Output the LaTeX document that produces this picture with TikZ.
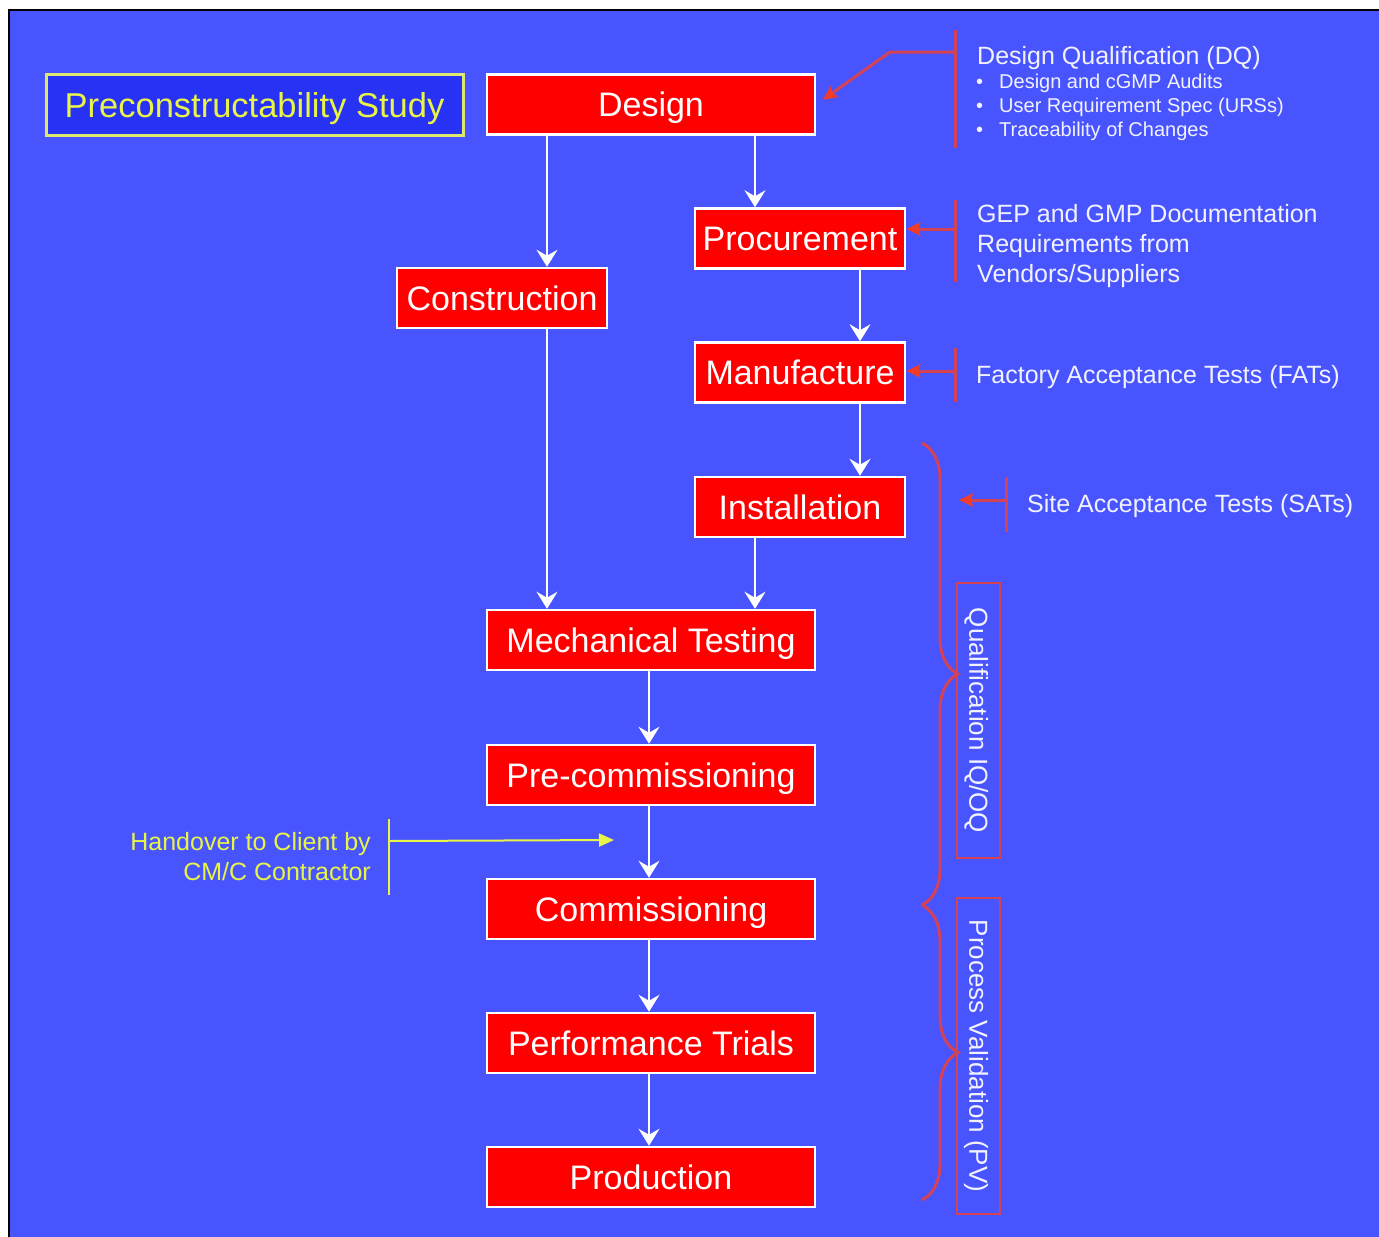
\documentclass[tikz,border=0pt]{standalone}
\usepackage{fontspec}
\setmainfont{Liberation Sans}
\usetikzlibrary{arrows.meta,decorations.pathreplacing,calc}

\definecolor{bgblue}{RGB}{72,85,255}
\definecolor{deepblue}{RGB}{40,50,245}
\definecolor{boxred}{RGB}{255,0,0}
\definecolor{notered}{RGB}{212,66,86}
\definecolor{tipred}{RGB}{240,60,40}
\definecolor{lemon}{RGB}{232,244,70}
\definecolor{paleyellow}{RGB}{220,232,110}
\definecolor{notewhite}{RGB}{242,242,255}

\begin{document}
\begin{tikzpicture}[x=1pt,y=-1pt,
  stage/.style={draw=white, line width=2.5pt, fill=boxred, text=white,
    font=\fontsize{34}{40}\selectfont, text height=24.5pt, text depth=0pt,
    inner sep=0pt, minimum height=60pt},
  widestage/.style={stage, minimum width=328pt},
  narrowstage/.style={stage, minimum width=210pt},
  flow/.style={draw=white, line width=2pt,
    -{Stealth[length=17pt,width=21pt,inset=6pt]}},
  notebar/.style={draw=notered, line width=3pt},
  pointer/.style={draw=notered, line width=3pt,
    -{Stealth[length=14pt,width=13pt,inset=2pt,color=tipred]}},
  notetext/.style={text=notewhite, inner sep=0pt, font=\fontsize{25}{30}\selectfont},
  smallnote/.style={text=notewhite, inner sep=0pt, font=\fontsize{20}{24}\selectfont},
  phasebox/.style={draw=notered, line width=2.5pt, rotate=-90, text=notewhite,
    font=\fontsize{26}{30}\selectfont, text height=18.5pt, text depth=0pt,
    inner sep=0pt, minimum height=43pt},
  phasebrace/.style={draw=notered, line width=3pt, decorate,
    decoration={brace, amplitude=36pt}},
  handtext/.style={text=lemon, inner sep=0pt, font=\fontsize{25}{30}\selectfont},
]
\useasboundingbox (0,0) rectangle (1379,1237);

% page background and frame
\fill[white] (0,0) rectangle (1379,1237);
\fill[bgblue] (9,10) rectangle (1379,1237);
\draw[black, line width=2pt] (9,1237) -- (9,10) -- (1379,10);

% columns used by the flow arrows
\coordinate (colA) at (547,0);
\coordinate (colB) at (755,0);
\coordinate (colC) at (860,0);
\coordinate (colD) at (649,0);

% study box
\node[draw=paleyellow, line width=3pt, fill=deepblue, text=lemon,
      font=\fontsize{34.5}{40}\selectfont, text height=25pt, text depth=0pt,
      inner sep=0pt, minimum width=417pt, minimum height=61pt]
  (study) at (254.5,104.5) {Preconstructability Study};

% stages
\node[widestage]   (design)       at (651,104.5) {Design};
\node[narrowstage] (procurement)  at (800,238.5) {Procurement};
\node[narrowstage] (construction) at (502,298)   {Construction};
\node[narrowstage] (manufacture)  at (800,372.5) {Manufacture};
\node[narrowstage] (installation) at (800,507)   {Installation};
\node[widestage]   (mechanical)   at (651,640)   {Mechanical Testing};
\node[widestage]   (precomm)      at (651,775)   {Pre-commissioning};
\node[widestage]   (comm)         at (651,909)   {Commissioning};
\node[widestage]   (trials)       at (651,1043)  {Performance Trials};
\node[widestage]   (production)   at (651,1177)  {Production};

% flow arrows
\draw[flow] (design.south -| colA) -- (construction.north -| colA);
\draw[flow] (design.south -| colB) -- (procurement.north -| colB);
\draw[flow] (procurement.south -| colC) -- (manufacture.north -| colC);
\draw[flow] (manufacture.south -| colC) -- (installation.north -| colC);
\draw[flow] (construction.south -| colA) -- (mechanical.north -| colA);
\draw[flow] (installation.south -| colB) -- (mechanical.north -| colB);
\draw[flow] (mechanical.south -| colD) -- (precomm.north -| colD);
\draw[flow] (precomm.south -| colD) -- (comm.north -| colD);
\draw[flow] (comm.south -| colD) -- (trials.north -| colD);
\draw[flow] (trials.south -| colD) -- (production.north -| colD);

% design qualification note
\coordinate (dqtop) at (955,30);
\coordinate (dqbot) at (955,148);
\coordinate (dqfoot) at (955,52);
\coordinate (dqknee) at (890,52);
\draw[notebar] (dqtop) -- (dqbot);
\draw[pointer, shorten >=8pt] (dqfoot) -- (dqknee) -- (design.east);
\node[notetext, anchor=base west] (dqtitle) at (977,64) {Design Qualification (DQ)};
\node[smallnote, anchor=base west] (dqb1) at (976,88)  {•};
\node[smallnote, anchor=base west] (dqb2) at (976,112) {•};
\node[smallnote, anchor=base west] (dqb3) at (976,136) {•};
\node[smallnote, anchor=base west] (dq1) at (999,88)  {Design and cGMP Audits};
\node[smallnote, anchor=base west] (dq2) at (999,112) {User Requirement Spec (URSs)};
\node[smallnote, anchor=base west] (dq3) at (999,136) {Traceability of Changes};

% documentation note
\coordinate (geptop) at (955,200);
\coordinate (gepbot) at (955,282);
\coordinate (gepfoot) at (955,229);
\draw[notebar] (geptop) -- (gepbot);
\draw[pointer] (gepfoot) -- (gepfoot -| procurement.east);
\node[notetext, anchor=base west] (gep1) at (977,222) {GEP and GMP Documentation};
\node[notetext, anchor=base west] (gep2) at (977,252) {Requirements from};
\node[notetext, anchor=base west] (gep3) at (977,282) {Vendors/Suppliers};

% factory tests note
\coordinate (fattop) at (955,348);
\coordinate (fatbot) at (955,402);
\coordinate (fatfoot) at (955,371);
\draw[notebar] (fattop) -- (fatbot);
\draw[pointer] (fatfoot) -- (fatfoot -| manufacture.east);
\node[notetext, anchor=base west] (fat) at (976,383) {Factory Acceptance Tests (FATs)};

% site tests note
\coordinate (sattop) at (1006,477);
\coordinate (satbot) at (1006,532);
\coordinate (satfoot) at (1006,500);
\coordinate (satend) at (959,500);
\draw[notebar] (sattop) -- (satbot);
\draw[pointer] (satfoot) -- (satend);
\node[notetext, anchor=base west] (sat) at (1027,512) {Site Acceptance Tests (SATs)};

% phase braces and labels
\coordinate (braceA) at (922,443);
\coordinate (braceB) at (922,905);
\coordinate (braceC) at (922,1200);
\draw[phasebrace] (braceA) -- (braceB);
\draw[phasebrace] (braceB) -- (braceC);
\node[phasebox, minimum width=275pt] (qual) at (978.5,720.5) {Qualification IQ/OQ};
\node[phasebox, minimum width=316pt] (pv) at (978.5,1056) {Process Validation (PV)};

% handover note
\coordinate (hotop) at (389,819);
\coordinate (hobot) at (389,895);
\coordinate (hofoot) at (389,841);
\coordinate (hoend) at (614,840);
\draw[draw=lemon, line width=2.5pt] (hotop) -- (hobot);
\draw[draw=lemon, line width=2pt, -{Triangle[length=15pt,width=13pt]}] (hofoot) -- (hoend);
\node[handtext, anchor=base east] (ho1) at (371,850) {Handover to Client by};
\node[handtext, anchor=base east] (ho2) at (371,880) {CM/C Contractor};

\end{tikzpicture}
\end{document}
